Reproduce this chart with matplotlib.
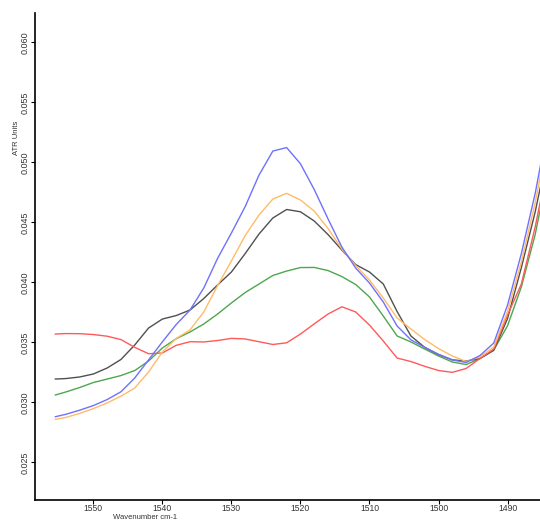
import numpy as np
import matplotlib
matplotlib.use('Agg')
import matplotlib.pyplot as plt

wavenumber = [1555.5, 1554, 1552, 1550, 1548, 1546, 1544, 1542, 1540, 1538,
              1536, 1534, 1532, 1530, 1528, 1526, 1524, 1522, 1520, 1518,
              1516, 1514, 1512, 1510, 1508, 1506, 1504, 1502, 1500, 1498,
              1496, 1494, 1492, 1490, 1488, 1486, 1485]

red = [0.03569, 0.03573, 0.03572, 0.03565, 0.03551, 0.03523, 0.03458, 0.03405,
       0.03411, 0.03475, 0.03505, 0.03503, 0.03515, 0.03533, 0.03528, 0.03505,
       0.03482, 0.03496, 0.03569, 0.03654, 0.03736, 0.03796, 0.03753, 0.03644,
       0.03511, 0.03369, 0.03340, 0.03300, 0.03265, 0.03250, 0.03282, 0.03365,
       0.03444, 0.03728, 0.03986, 0.04461, 0.04744]

blue = [0.02880, 0.02900, 0.02934, 0.02973, 0.03023, 0.03088, 0.03203, 0.03353,
        0.03504, 0.03648, 0.03769, 0.03953, 0.04200, 0.04411, 0.04632, 0.04894,
        0.05094, 0.05123, 0.04988, 0.04773, 0.04528, 0.04294, 0.04119, 0.03994,
        0.03836, 0.03636, 0.03521, 0.03458, 0.03400, 0.03353, 0.03332, 0.03390,
        0.03494, 0.03811, 0.04240, 0.04740, 0.05044]

orange = [0.02858, 0.02874, 0.02907, 0.02948, 0.02995, 0.03051, 0.03119, 0.03253,
          0.03419, 0.03532, 0.03603, 0.03753, 0.03973, 0.04178, 0.04390, 0.04561,
          0.04694, 0.04742, 0.04686, 0.04594, 0.04448, 0.04278, 0.04140, 0.04019,
          0.03869, 0.03703, 0.03611, 0.03523, 0.03448, 0.03386, 0.03340, 0.03378,
          0.03461, 0.03757, 0.04171, 0.04661, 0.04961]

black = [0.03194, 0.03198, 0.03211, 0.03236, 0.03286, 0.03357, 0.03478, 0.03619,
         0.03694, 0.03723, 0.03769, 0.03865, 0.03978, 0.04086, 0.04240, 0.04403,
         0.04536, 0.04607, 0.04588, 0.04511, 0.04398, 0.04269, 0.04148, 0.04086,
         0.03986, 0.03757, 0.03553, 0.03458, 0.03398, 0.03354, 0.03344, 0.03365,
         0.03433, 0.03698, 0.04123, 0.04586, 0.04861]

green = [0.03061, 0.03086, 0.03123, 0.03165, 0.03194, 0.03223, 0.03265, 0.03344,
         0.03453, 0.03530, 0.03586, 0.03653, 0.03736, 0.03828, 0.03915, 0.03986,
         0.04057, 0.04094, 0.04123, 0.04124, 0.04098, 0.04048, 0.03982, 0.03878,
         0.03719, 0.03553, 0.03503, 0.03444, 0.03386, 0.03336, 0.03315, 0.03365,
         0.03436, 0.03638, 0.03962, 0.04398, 0.04686]

xticks = [1550, 1540, 1530, 1520, 1510, 1500, 1490]
yticks = [0.025, 0.030, 0.035, 0.040, 0.045, 0.050, 0.055, 0.060]

plt.rcParams['font.family'] = ['Liberation Sans', 'DejaVu Sans']

fig = plt.figure(figsize=(5.4, 5.21), dpi=100)
ax = fig.add_axes([35/540, 21/521, 505/540, 487.3/521])

# orden de dibujo: el verde queda debajo
ax.plot(wavenumber, green, color='#4ea64e', lw=1.0)
ax.plot(wavenumber, black, color='#505050', lw=1.0)
ax.plot(wavenumber, red, color='#ff5a5a', lw=1.0)
ax.plot(wavenumber, orange, color='#ffbb66', lw=1.0)
ax.plot(wavenumber, blue, color='#7070ff', lw=1.0)

ax.set_xlim(1558.45, 1485.3)
ax.set_ylim(0.02186, 0.06247)

ax.spines['top'].set_visible(False)
ax.spines['right'].set_visible(False)
ax.spines['left'].set_linewidth(1.2)
ax.spines['bottom'].set_linewidth(1.2)

ax.set_xticks(xticks)
ax.set_xticklabels([str(t) for t in xticks])
ax.set_yticks(yticks)
ax.set_yticklabels(['%.3f' % t for t in yticks])
ax.tick_params(axis='x', length=3, width=0.8, pad=0, labelsize=6.2,
               labelcolor='#333333')
ax.tick_params(axis='y', length=3, width=0.8, pad=1, labelsize=6.5,
               labelcolor='#333333', labelrotation=90)
for lab in ax.get_yticklabels():
    lab.set_va('center')

fig.text(16.7/540, 1 - 138.3/521, 'ATR Units', rotation=90, fontsize=5.5,
         color='#333333', ha='center', va='center')
fig.text(145/540, 0.2/521, 'Wavenumber cm-1', fontsize=5.5,
         color='#333333', ha='center', va='bottom')

fig.savefig('out.png', dpi=100)
